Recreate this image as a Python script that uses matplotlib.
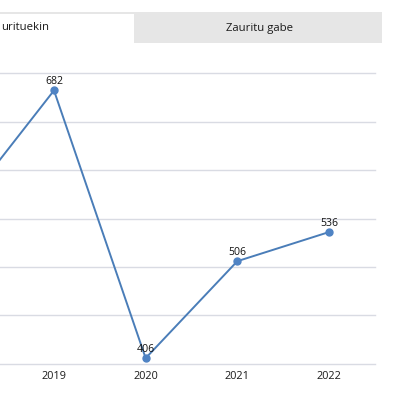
from matplotlib import pyplot as pl
from matplotlib.patches import Rectangle

years = [2018, 2019, 2020, 2021, 2022]
values = [561, 682, 406, 506, 536]
tabs = ['urituekin', 'Zauritu gabe']

line_color = '#4a7db8'
grid_color = '#d9dbe3'
W = H = 400.0

fig = pl.figure(figsize=(4, 4), dpi=100)

# tabs at the top (figure pixel coordinates converted to fractions)
fig.patches.append(Rectangle((0, 1 - 43 / H), 382 / W, 31 / H,
                             transform=fig.transFigure, facecolor='#e6e6e6',
                             edgecolor='none'))
fig.patches.append(Rectangle((0, 1 - 43 / H), 134 / W, 29 / H,
                             transform=fig.transFigure, facecolor='white',
                             edgecolor='none'))
fig.text(1 / W, 1 - 28 / H, tabs[0], ha='left', va='center',
         fontsize=8.2, color='#1a1a1a', family='Open Sans')
fig.text(259 / W, 1 - 28 / H, tabs[1], ha='center', va='center',
         fontsize=8.2, color='#1a1a1a', family='Open Sans')

ax = fig.add_axes([0, (H - 364) / H, 375 / W, (364 - 73) / H])
ax.set_xlim(2018.411, 2022.502)
ax.set_ylim(400, 700)

ax.plot(years, values, color=line_color, lw=1.4, marker='o', ms=5,
        mfc='#4f83c4', mec='#4f83c4', zorder=3)

for x, y in zip(years, values):
    ax.annotate(str(y), (x, y), xytext=(0, 2.5), textcoords='offset points',
                ha='center', va='bottom', fontsize=7.6, color='#111111',
                family='Open Sans', zorder=4)

ax.set_yticks(range(400, 701, 50))
ax.set_xticks(years[1:])
ax.set_xticklabels([str(y) for y in years[1:]], fontsize=7.8,
                   color='#1a1a1a', family='Open Sans')
ax.tick_params(axis='x', length=0, pad=5)
ax.tick_params(axis='y', length=0, labelleft=False)
ax.grid(axis='y', color=grid_color, lw=1)
for gl in ax.get_ygridlines():
    gl.set_clip_on(False)
ax.set_axisbelow(True)
for s in ax.spines.values():
    s.set_visible(False)

fig.savefig('out.png', dpi=100)
